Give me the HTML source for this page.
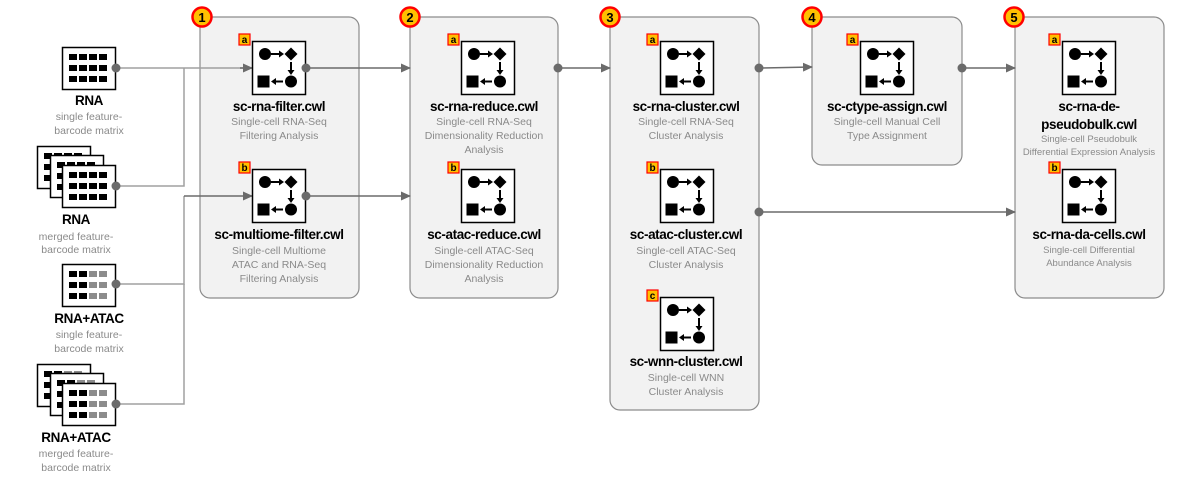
<!DOCTYPE html>
<html><head><meta charset="utf-8"><style>
html,body{margin:0;padding:0;background:#fff;}
svg{display:block;font-family:"Liberation Sans","DejaVu Sans",sans-serif;}
.t{font-weight:bold;font-size:13.5px;fill:#000;text-anchor:middle;letter-spacing:-0.4px}
.s{font-size:10.5px;fill:#8a8a8a;text-anchor:middle}
.ln{stroke:#6b6b6b;stroke-width:1.5;fill:none}
.ln2{stroke:#a0a0a0;stroke-width:1.5;fill:none}
.st{fill:#f2f2f2;stroke:#8c8c8c;stroke-width:1.2}
.tag{font-weight:bold;font-size:10px;fill:#000;text-anchor:middle}
.num{font-weight:bold;font-size:13px;fill:#000;text-anchor:middle}
</style></head><body>
<svg width="1177" height="480" viewBox="0 0 1177 480" xmlns="http://www.w3.org/2000/svg">
<defs>
<g id="ic">
<rect x="0.5" y="0.5" width="53" height="53" fill="#fff" stroke="#000" stroke-width="1.5"/>
<circle cx="13" cy="13" r="6" fill="#000"/>
<line x1="19" y1="13" x2="29" y2="13" stroke="#000" stroke-width="2"/>
<polygon points="27,9.5 32,13 27,16.5" fill="#000"/>
<polygon points="39,6.5 45.5,13 39,19.5 32.5,13" fill="#000"/>
<line x1="39" y1="21" x2="39" y2="31" stroke="#000" stroke-width="2"/>
<polygon points="35.5,29 39,34 42.5,29" fill="#000"/>
<rect x="5.5" y="34.5" width="12" height="12" fill="#000"/>
<line x1="21" y1="40.5" x2="31" y2="40.5" stroke="#000" stroke-width="2"/>
<polygon points="24,37 19,40.5 24,44" fill="#000"/>
<circle cx="39" cy="40.5" r="6" fill="#000"/>
</g>
<g id="mx">
<rect x="0.5" y="0.5" width="53" height="42" fill="#fff" stroke="#000" stroke-width="1.5"/>
<g fill="#000">
<rect x="7" y="7" width="8" height="6"/><rect x="17" y="7" width="8" height="6"/><rect x="27" y="7" width="8" height="6"/><rect x="37" y="7" width="8" height="6"/>
<rect x="7" y="18" width="8" height="6"/><rect x="17" y="18" width="8" height="6"/><rect x="27" y="18" width="8" height="6"/><rect x="37" y="18" width="8" height="6"/>
<rect x="7" y="29" width="8" height="6"/><rect x="17" y="29" width="8" height="6"/><rect x="27" y="29" width="8" height="6"/><rect x="37" y="29" width="8" height="6"/>
</g></g>
<g id="mx2">
<rect x="0.5" y="0.5" width="53" height="42" fill="#fff" stroke="#000" stroke-width="1.5"/>
<g fill="#000">
<rect x="7" y="7" width="8" height="6"/><rect x="17" y="7" width="8" height="6"/>
<rect x="7" y="18" width="8" height="6"/><rect x="17" y="18" width="8" height="6"/>
<rect x="7" y="29" width="8" height="6"/><rect x="17" y="29" width="8" height="6"/>
</g><g fill="#8c8c8c">
<rect x="27" y="7" width="8" height="6"/><rect x="37" y="7" width="8" height="6"/>
<rect x="27" y="18" width="8" height="6"/><rect x="37" y="18" width="8" height="6"/>
<rect x="27" y="29" width="8" height="6"/><rect x="37" y="29" width="8" height="6"/>
</g></g>
<marker id="ar" markerWidth="10" markerHeight="10" refX="9" refY="5" orient="auto" markerUnits="userSpaceOnUse"><polygon points="0,0.5 10,5 0,9.5" fill="#6b6b6b"/></marker>
</defs>

<rect class="st" x="200" y="17" width="159" height="281" rx="10"/>
<rect class="st" x="410" y="17" width="148" height="281" rx="10"/>
<rect class="st" x="610" y="17" width="149" height="393" rx="10"/>
<rect class="st" x="812" y="17" width="150" height="148" rx="10"/>
<rect class="st" x="1015" y="17" width="149" height="281" rx="10"/>

<path class="ln2" d="M116,68 H250"/>
<path class="ln2" d="M116,186 H184 V68"/>
<path class="ln2" d="M116,284 H184 V196"/>
<path class="ln2" d="M116,404 H184 V284"/>
<path class="ln" d="M184,196 H252" marker-end="url(#ar)"/>
<path class="ln" d="M240,68 H252" marker-end="url(#ar)"/>

<path class="ln" d="M306,68 H410" marker-end="url(#ar)"/>
<path class="ln" d="M306,196 H410" marker-end="url(#ar)"/>
<path class="ln" d="M558,68 H610" marker-end="url(#ar)"/>
<path class="ln" d="M759,68 L812,67" marker-end="url(#ar)"/>
<path class="ln" d="M759,212 H1015" marker-end="url(#ar)"/>
<path class="ln" d="M962,68 H1015" marker-end="url(#ar)"/>

<use href="#mx" x="62" y="47"/>
<text class="t" x="89" y="105">RNA</text>
<text class="s" x="89" y="120">single feature-</text>
<text class="s" x="89" y="134">barcode matrix</text>

<use href="#mx" x="37" y="146"/><use href="#mx" x="50" y="155"/><use href="#mx" x="62" y="165"/>
<text class="t" x="76" y="224">RNA</text>
<text class="s" x="76" y="240">merged feature-</text>
<text class="s" x="76" y="253">barcode matrix</text>

<use href="#mx2" x="62" y="264"/>
<text class="t" x="89" y="323">RNA+ATAC</text>
<text class="s" x="89" y="338">single feature-</text>
<text class="s" x="89" y="352">barcode matrix</text>

<use href="#mx2" x="37" y="364"/><use href="#mx2" x="50" y="373"/><use href="#mx2" x="62" y="383"/>
<text class="t" x="76" y="442">RNA+ATAC</text>
<text class="s" x="76" y="457">merged feature-</text>
<text class="s" x="76" y="471">barcode matrix</text>

<g>
<circle cx="202" cy="17" r="9.5" fill="#ffc000" stroke="#ff0000" stroke-width="2.5"/><text class="num" x="202" y="22">1</text>
<circle cx="410" cy="17" r="9.5" fill="#ffc000" stroke="#ff0000" stroke-width="2.5"/><text class="num" x="410" y="22">2</text>
<circle cx="610" cy="17" r="9.5" fill="#ffc000" stroke="#ff0000" stroke-width="2.5"/><text class="num" x="610" y="22">3</text>
<circle cx="812" cy="17" r="9.5" fill="#ffc000" stroke="#ff0000" stroke-width="2.5"/><text class="num" x="812" y="22">4</text>
<circle cx="1014" cy="17" r="9.5" fill="#ffc000" stroke="#ff0000" stroke-width="2.5"/><text class="num" x="1014" y="22">5</text>
</g>

<g>
<use href="#ic" x="252" y="41"/><rect x="239" y="34" width="11" height="11" fill="#ffc000" stroke="#f00" stroke-width="1.2"/><text class="tag" x="244.5" y="43">a</text>
<use href="#ic" x="252" y="169"/><rect x="239" y="162" width="11" height="11" fill="#ffc000" stroke="#f00" stroke-width="1.2"/><text class="tag" x="244.5" y="171">b</text>
<use href="#ic" x="461" y="41"/><rect x="448" y="34" width="11" height="11" fill="#ffc000" stroke="#f00" stroke-width="1.2"/><text class="tag" x="453.5" y="43">a</text>
<use href="#ic" x="461" y="169"/><rect x="448" y="162" width="11" height="11" fill="#ffc000" stroke="#f00" stroke-width="1.2"/><text class="tag" x="453.5" y="171">b</text>
<use href="#ic" x="660" y="41"/><rect x="647" y="34" width="11" height="11" fill="#ffc000" stroke="#f00" stroke-width="1.2"/><text class="tag" x="652.5" y="43">a</text>
<use href="#ic" x="660" y="169"/><rect x="647" y="162" width="11" height="11" fill="#ffc000" stroke="#f00" stroke-width="1.2"/><text class="tag" x="652.5" y="171">b</text>
<use href="#ic" x="660" y="297"/><rect x="647" y="290" width="11" height="11" fill="#ffc000" stroke="#f00" stroke-width="1.2"/><text class="tag" x="652.5" y="299">c</text>
<use href="#ic" x="860" y="41"/><rect x="847" y="34" width="11" height="11" fill="#ffc000" stroke="#f00" stroke-width="1.2"/><text class="tag" x="852.5" y="43">a</text>
<use href="#ic" x="1062" y="41"/><rect x="1049" y="34" width="11" height="11" fill="#ffc000" stroke="#f00" stroke-width="1.2"/><text class="tag" x="1054.5" y="43">a</text>
<use href="#ic" x="1062" y="169"/><rect x="1049" y="162" width="11" height="11" fill="#ffc000" stroke="#f00" stroke-width="1.2"/><text class="tag" x="1054.5" y="171">b</text>
</g>

<g fill="#6b6b6b">
<circle cx="116" cy="68" r="4.5"/><circle cx="116" cy="186" r="4.5"/><circle cx="116" cy="284" r="4.5"/><circle cx="116" cy="404" r="4.5"/>
<circle cx="306" cy="68" r="4.5"/><circle cx="306" cy="196" r="4.5"/>
<circle cx="558" cy="68" r="4.5"/><circle cx="759" cy="68" r="4.5"/><circle cx="759" cy="212" r="4.5"/><circle cx="962" cy="68" r="4.5"/>
</g>

<text class="t" x="279" y="111">sc-rna-filter.cwl</text>
<text class="s" x="279" y="125">Single-cell RNA-Seq</text>
<text class="s" x="279" y="139">Filtering Analysis</text>

<text class="t" x="279" y="239">sc-multiome-filter.cwl</text>
<text class="s" x="279" y="254">Single-cell Multiome</text>
<text class="s" x="279" y="268">ATAC and RNA-Seq</text>
<text class="s" x="279" y="282">Filtering Analysis</text>

<text class="t" x="484" y="111">sc-rna-reduce.cwl</text>
<text class="s" x="484" y="125">Single-cell RNA-Seq</text>
<text class="s" x="484" y="139">Dimensionality Reduction</text>
<text class="s" x="484" y="153">Analysis</text>

<text class="t" x="484" y="239">sc-atac-reduce.cwl</text>
<text class="s" x="484" y="254">Single-cell ATAC-Seq</text>
<text class="s" x="484" y="268">Dimensionality Reduction</text>
<text class="s" x="484" y="282">Analysis</text>

<text class="t" x="686" y="111">sc-rna-cluster.cwl</text>
<text class="s" x="686" y="125">Single-cell RNA-Seq</text>
<text class="s" x="686" y="139">Cluster Analysis</text>

<text class="t" x="686" y="239">sc-atac-cluster.cwl</text>
<text class="s" x="686" y="254">Single-cell ATAC-Seq</text>
<text class="s" x="686" y="268">Cluster Analysis</text>

<text class="t" x="686" y="366">sc-wnn-cluster.cwl</text>
<text class="s" x="686" y="381">Single-cell WNN</text>
<text class="s" x="686" y="395">Cluster Analysis</text>

<text class="t" x="887" y="111">sc-ctype-assign.cwl</text>
<text class="s" x="887" y="125">Single-cell Manual Cell</text>
<text class="s" x="887" y="139">Type Assignment</text>

<text class="t" x="1089" y="111">sc-rna-de-</text>
<text class="t" x="1089" y="129">pseudobulk.cwl</text>
<text class="s" x="1089" y="142" style="font-size:9.5px">Single-cell Pseudobulk</text>
<text class="s" x="1089" y="155" style="font-size:9.5px">Differential Expression Analysis</text>

<text class="t" x="1089" y="239">sc-rna-da-cells.cwl</text>
<text class="s" x="1089" y="253" style="font-size:9.5px">Single-cell Differential</text>
<text class="s" x="1089" y="266" style="font-size:9.5px">Abundance Analysis</text>
</svg>
</body></html>
